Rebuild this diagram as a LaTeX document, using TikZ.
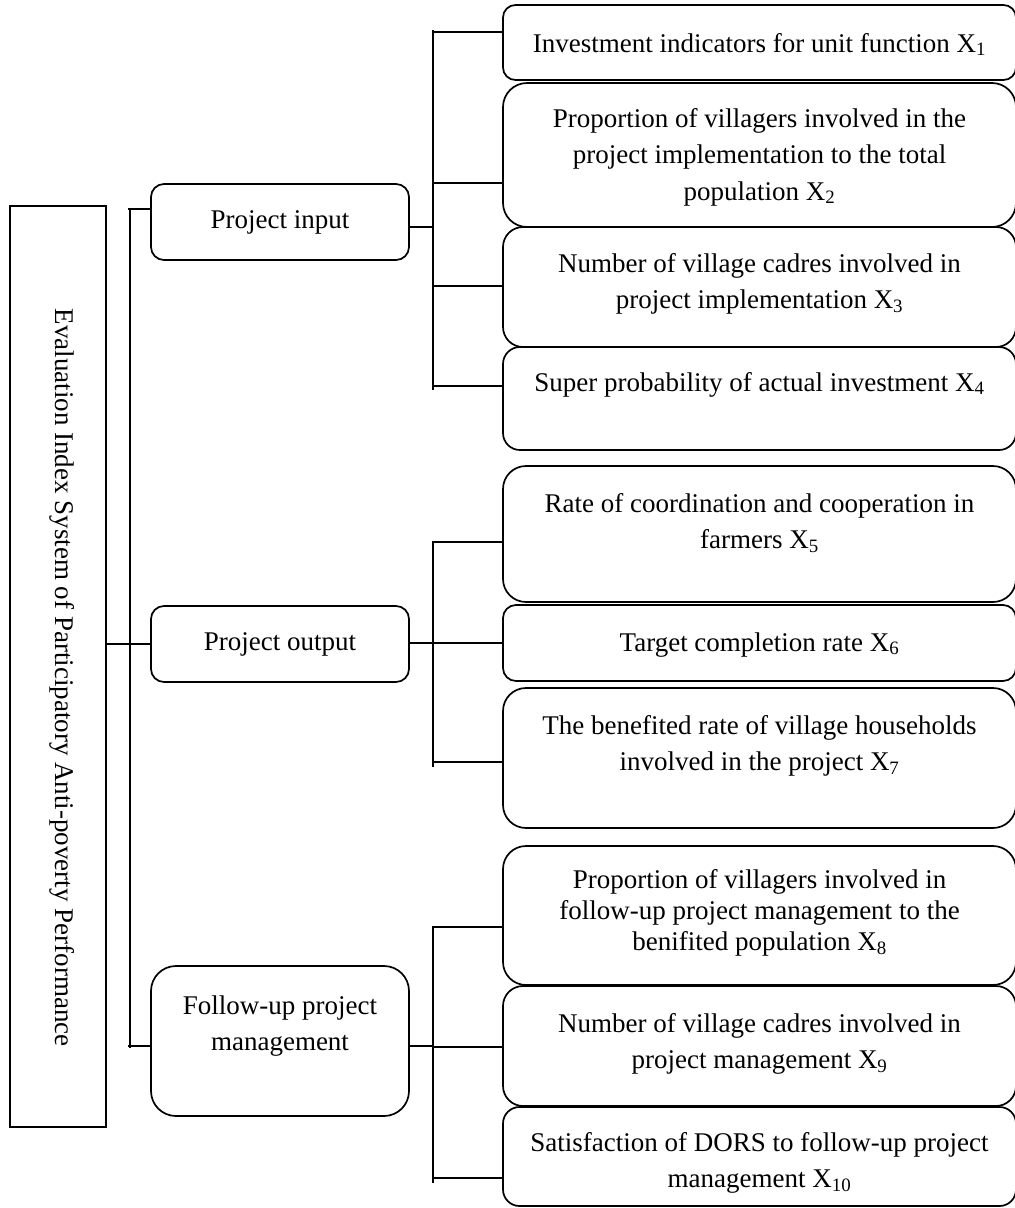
\documentclass[tikz,border=0pt]{standalone}
\usepackage{fontspec}
\setmainfont{Liberation Serif}
\newcommand{\inbox}[4]{\parbox[c][#2][t]{#1}{\centering\vspace*{#3}\rule{0pt}{25pt}#4}}
\begin{document}
\begin{tikzpicture}[x=1pt,y=-1pt,
  line width=1.7pt,
  every node/.style={font=\fontsize{27pt}{36.5pt}\selectfont, inner sep=0pt, outer sep=0pt},
  rbox/.style={draw, anchor=north west},
  wire/.style={draw, line width=1.7pt}]
\useasboundingbox (0,0) rectangle (1015,1208);
% root box
\node[draw, minimum width=96pt, minimum height=921pt, anchor=north west] (root) at (10,206)
  {\rotatebox{-90}{\raisebox{4pt}[\height][\depth]{\hspace*{22pt}Evaluation Index System of Participatory Anti-poverty Performance}}};
% middle boxes
\node[rbox, rounded corners=13pt] (pin) at (151,184) {\inbox{258pt}{76pt}{19pt}{Project input}};
\node[rbox, rounded corners=13pt] (pout) at (151,606) {\inbox{258pt}{76pt}{19pt}{Project output}};
\node[rbox, rounded corners=25pt] (fup) at (151,966) {\inbox{258pt}{150pt}{23pt}{Follow-up project\\management}};
% right boxes
\node[rbox, rounded corners=12.5pt] (x1) at (503,5) {\inbox{513pt}{75pt}{22pt}{Investment indicators for unit function X\textsubscript{1}}};
\node[rbox, rounded corners=24pt] (x2) at (503,83) {\inbox{513pt}{144pt}{19pt}{Proportion of villagers involved in the\\project implementation to the total\\population X\textsubscript{2}}};
\node[rbox, rounded corners=20pt] (x3) at (503,227) {\inbox{513pt}{120pt}{20pt}{Number of village cadres involved in\\project implementation X\textsubscript{3}}};
\node[rbox, rounded corners=17pt] (x4) at (503,347) {\inbox{513pt}{103pt}{19pt}{Super probability of actual investment X\textsubscript{4}}};
\node[rbox, rounded corners=23pt] (x5) at (503,466) {\inbox{513pt}{136pt}{21pt}{Rate of coordination and cooperation in\\farmers X\textsubscript{5}}};
\node[rbox, rounded corners=13pt] (x6) at (503,605) {\inbox{513pt}{76pt}{21pt}{Target completion rate X\textsubscript{6}}};
\node[rbox, rounded corners=23pt] (x7) at (503,688) {\inbox{513pt}{140pt}{21pt}{The benefited rate of village households\\involved in the project X\textsubscript{7}}};
\node[rbox, rounded corners=23pt] (x8) at (503,846) {{\fontsize{27pt}{31pt}\selectfont\inbox{513pt}{139pt}{17pt}{Proportion of villagers involved in\\follow-up project management to the\\benifited population X\textsubscript{8}}}};
\node[rbox, rounded corners=20pt] (x9) at (503,986) {\inbox{513pt}{120pt}{21pt}{Number of village cadres involved in\\project management X\textsubscript{9}}};
\node[rbox, rounded corners=16.5pt] (x10) at (503,1107) {\inbox{513pt}{99pt}{19pt}{Satisfaction of DORS to follow-up project\\management X\textsubscript{10}}};
% left bracket
\coordinate (lbT) at (128,209);
\coordinate (lbB) at (128,1046);
\coordinate (lbv1) at (130,209);
\coordinate (lbv2) at (130,1048);
\draw[wire] (lbv1) -- (lbv2);
\draw[wire] (lbT) -- (pin.west |- lbT);
\draw[wire] (lbB) -- (fup.west |- lbB);
\draw[wire] (root.east |- pout.west) -- (pout.west);
% group 1
\coordinate (g1T) at (433,30);
\coordinate (g1B) at (433,390);
\coordinate (p1) at (433,227);
\coordinate (s1) at (433,32);
\coordinate (s2) at (433,183);
\coordinate (s3) at (433,286);
\coordinate (s4) at (433,386);
\draw[wire] (g1T) -- (g1B);
\draw[wire] (pin.east |- p1) -- (p1);
\draw[wire] (s1) -- (s1 -| x1.west);
\draw[wire] (s2) -- (s2 -| x2.west);
\draw[wire] (s3) -- (s3 -| x3.west);
\draw[wire] (s4) -- (s4 -| x4.west);
% group 2
\coordinate (g2T) at (433,541);
\coordinate (g2B) at (433,767);
\coordinate (p2) at (433,643);
\coordinate (s5) at (433,542);
\coordinate (s6) at (433,643);
\coordinate (s7) at (433,762);
\draw[wire] (g2T) -- (g2B);
\draw[wire] (pout.east |- p2) -- (p2);
\draw[wire] (s5) -- (s5 -| x5.west);
\draw[wire] (s6) -- (s6 -| x6.west);
\draw[wire] (s7) -- (s7 -| x7.west);
% group 3
\coordinate (g3T) at (433,926);
\coordinate (g3B) at (433,1183);
\coordinate (p3) at (433,1046);
\coordinate (s8) at (433,927);
\coordinate (s9) at (433,1047);
\coordinate (s10) at (433,1178);
\draw[wire] (g3T) -- (g3B);
\draw[wire] (fup.east |- p3) -- (p3);
\draw[wire] (s8) -- (s8 -| x8.west);
\draw[wire] (s9) -- (s9 -| x9.west);
\draw[wire] (s10) -- (s10 -| x10.west);
\end{tikzpicture}
\end{document}
